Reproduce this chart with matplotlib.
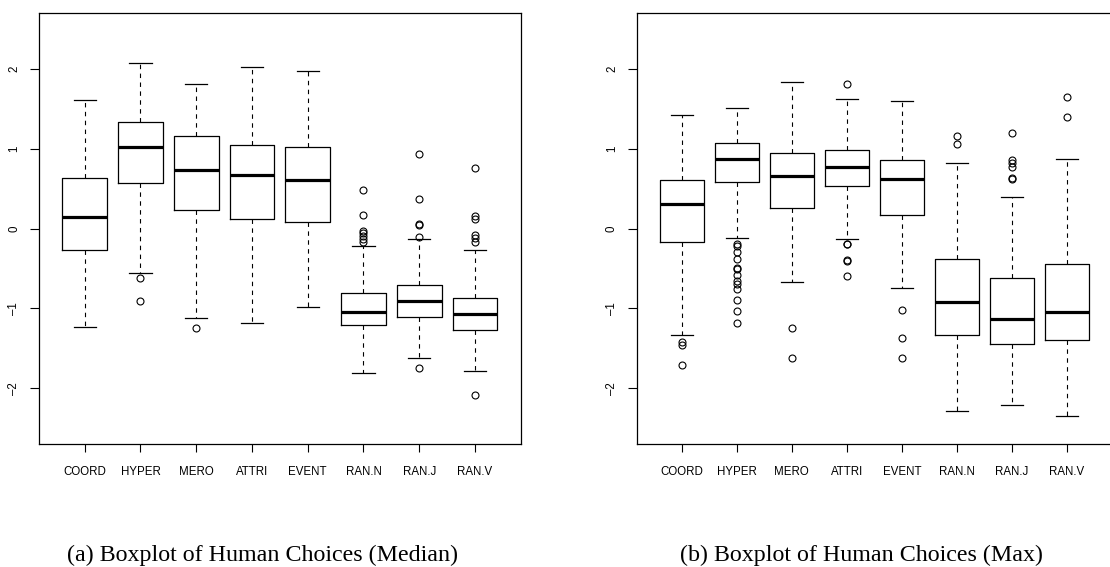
import matplotlib
matplotlib.use('Agg')
import matplotlib.pyplot as plt

categories = ['COORD', 'HYPER', 'MERO', 'ATTRI', 'EVENT', 'RAN.N', 'RAN.J', 'RAN.V']

# Panel (a): Human choices (Median)
a_whislo = [-1.24, -0.56, -1.12, -1.19, -0.98, -1.81, -1.62, -1.79]
a_q1 = [-0.265, 0.57, 0.23, 0.115, 0.077, -1.214, -1.11, -1.273]
a_med = [0.148, 1.022, 0.733, 0.671, 0.612, -1.043, -0.913, -1.072]
a_q3 = [0.629, 1.335, 1.164, 1.043, 1.022, -0.809, -0.713, -0.867]
a_whishi = [1.61, 2.07, 1.808, 2.021, 1.979, -0.219, -0.132, -0.265]
a_fliers = [
    [],
    [-0.617, -0.909],
    [-1.243],
    [],
    [],
    [0.478, 0.169, -0.03, -0.06, -0.09, -0.13, -0.17],
    [0.934, 0.374, 0.056, 0.04, -0.107, -1.753],
    [0.755, 0.157, 0.12, -0.082, -0.124, -0.17, -2.088],
]

# Panel (b): Human choices (Max)
b_whislo = [-1.336, -0.115, -0.667, -0.136, -0.75, -2.289, -2.214, -2.347]
b_q1 = [-0.17, 0.587, 0.257, 0.537, 0.173, -1.336, -1.453, -1.398]
b_med = [0.303, 0.871, 0.654, 0.775, 0.62, -0.926, -1.131, -1.043]
b_q3 = [0.612, 1.068, 0.942, 0.983, 0.859, -0.382, -0.621, -0.441]
b_whishi = [1.423, 1.507, 1.833, 1.628, 1.603, 0.817, 0.39, 0.867]
b_fliers = [
    [-1.423, -1.457, -1.712],
    [-0.19, -0.22, -0.29, -0.38, -0.49, -0.51, -0.58, -0.66, -0.69, -0.76, -0.90, -1.03, -1.18],
    [-1.252, -1.62],
    [1.812, -0.195, -0.2, -0.395, -0.41, -0.596],
    [-1.018, -1.378, -1.62],
    [1.164, 1.064],
    [1.193, 0.859, 0.821, 0.771, 0.637, 0.625],
    [1.649, 1.402],
]

y_ticks = [-2, -1, 0, 1, 2]
captions = ['(a) Boxplot of Human Choices (Median)', '(b) Boxplot of Human Choices (Max)']

label_font = ['Liberation Sans', 'DejaVu Sans']
caption_font = ['Liberation Serif', 'DejaVu Serif']

W, H = 1110, 567
fig = plt.figure(figsize=(W / 100, H / 100), dpi=100)


def make_stats(lo, q1, med, q3, hi, fl):
    out = []
    for i in range(len(lo)):
        out.append(dict(whislo=lo[i], q1=q1[i], med=med[i], q3=q3[i],
                        whishi=hi[i], fliers=fl[i], label=categories[i]))
    return out


def draw_panel(ax, stats):
    positions = list(range(1, len(stats) + 1))
    ax.bxp(stats, positions=positions, widths=0.8, capwidths=0.4,
           showfliers=True, patch_artist=False,
           boxprops=dict(color='black', linewidth=0.9),
           medianprops=dict(color='black', linewidth=2.3, solid_capstyle='butt'),
           whiskerprops=dict(color='black', linewidth=0.8, linestyle=(0, (4, 4))),
           capprops=dict(color='black', linewidth=0.9),
           flierprops=dict(marker='o', markerfacecolor='none', markeredgecolor='black',
                           markersize=5, markeredgewidth=0.8, linestyle='none'))
    ax.set_xlim(0.18, 8.82)
    ax.set_ylim(-2.7, 2.7)
    ax.set_xticks(positions)
    ax.set_xticklabels(categories, fontsize=8.3, family=label_font)
    ax.set_yticks(y_ticks)
    ax.set_yticklabels([str(v).replace('-', '\u2013') for v in y_ticks], fontsize=8.3,
                       family=label_font, rotation=90, va='center')
    ax.tick_params(axis='x', direction='out', length=6, width=0.8, pad=9.5, colors='black')
    ax.tick_params(axis='y', direction='out', length=6.5, width=0.8, pad=7, colors='black')
    for s in ax.spines.values():
        s.set_linewidth(0.9)
        s.set_color('black')


ax1 = fig.add_axes([39 / W, 1 - 444 / H, (520.7 - 39) / W, (444 - 13) / H])
draw_panel(ax1, make_stats(a_whislo, a_q1, a_med, a_q3, a_whishi, a_fliers))

ax2 = fig.add_axes([636.7 / W, 1 - 444 / H, (1112 - 636.7) / W, (444 - 13) / H])
draw_panel(ax2, make_stats(b_whislo, b_q1, b_med, b_q3, b_whishi, b_fliers))

fig.text(67 / W, 1 - 561.5 / H, captions[0], fontsize=17.3, family=caption_font,
         ha='left', va='baseline')
fig.text(680 / W, 1 - 561.5 / H, captions[1], fontsize=17.3, family=caption_font,
         ha='left', va='baseline')

fig.savefig('out.png', dpi=100)
